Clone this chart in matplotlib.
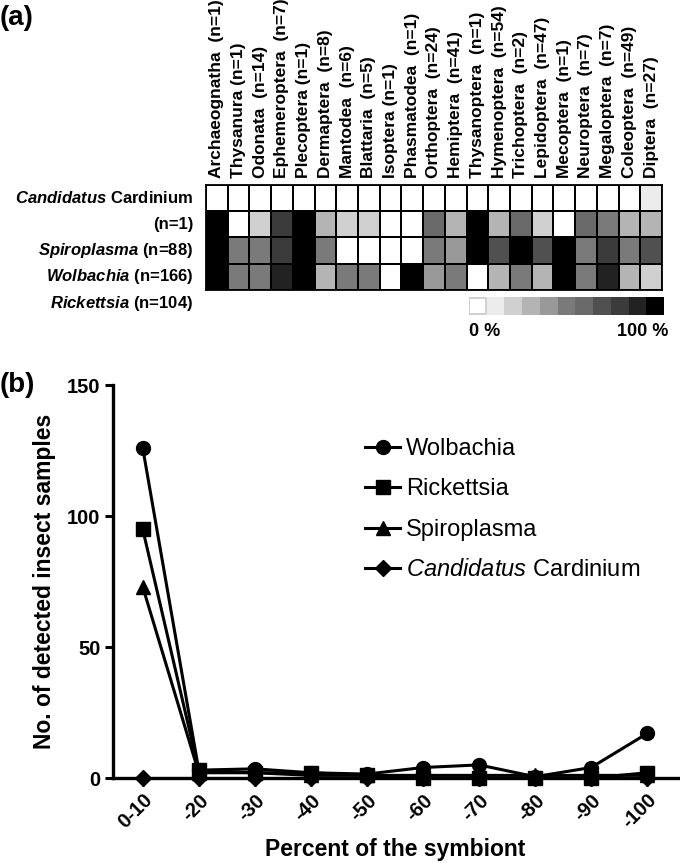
import matplotlib

matplotlib.use("Agg")

import matplotlib.pyplot as plt
import numpy as np
from matplotlib.colors import BoundaryNorm, ListedColormap
from matplotlib.patches import Rectangle
from matplotlib.transforms import blended_transform_factory

plt.rcParams["font.family"] = ["Liberation Sans", "DejaVu Sans"]
plt.rcParams["mathtext.fontset"] = "custom"
plt.rcParams["mathtext.rm"] = "Liberation Sans:bold"
plt.rcParams["mathtext.it"] = "Liberation Sans:italic:bold"
plt.rcParams["mathtext.sf"] = "Liberation Sans:italic"

# --- panel (a): infection rate (%) per insect order ------------------------
orders = ["Archaeognatha  (n=1)", "Thysanura (n=1)", "Odonata  (n=14)",
          "Ephemeroptera  (n=7)", "Plecoptera (n=1)", "Dermaptera  (n=8)",
          "Mantodea  (n=6)", "Blattaria  (n=5)", "Isoptera (n=1)",
          "Phasmatodea  (n=1)", "Orthoptera  (n=24)", "Hemiptera  (n=41)",
          "Thysanoptera  (n=1)", "Hymenoptera  (n=54)", "Trichoptera  (n=2)",
          "Lepidoptera  (n=47)", "Mecoptera  (n=1)", "Neuroptera  (n=7)",
          "Megaloptera  (n=7)", "Coleoptera  (n=49)", "Diptera  (n=27)"]
row_labels = [r"$\it{Candidatus}$ Cardinium", "(n=1)",
              r"$\it{Spiroplasma}$ (n=88)", r"$\it{Wolbachia}$ (n=166)",
              r"$\it{Rickettsia}$ (n=104)"]
cardinium_pct = [0, 0, 0, 0, 0, 0, 0, 0, 0, 0, 0, 0, 0, 0, 0, 0, 0, 0, 0, 0, 10]
spiroplasma_pct = [100, 0, 20, 80, 100, 30, 20, 20, 0, 0, 60, 30, 100, 30, 60,
                   20, 0, 60, 50, 30, 30]
wolbachia_pct = [100, 50, 50, 80, 100, 50, 0, 0, 0, 0, 50, 40, 100, 70, 100,
                 70, 100, 50, 80, 50, 70]
rickettsia_pct = [100, 50, 50, 90, 100, 30, 50, 50, 0, 100, 40, 50, 0, 30, 50,
                  30, 100, 50, 90, 30, 20]
scale_pct = [0, 10, 20, 30, 40, 50, 60, 70, 80, 90, 100]

grays = ["#ffffff", "#ececec", "#d0d0d0", "#b4b4b4", "#999999", "#7a7a7a",
         "#6a6a6a", "#505050", "#3b3b3b", "#222222", "#000000"]
cmap = ListedColormap(grays)
norm = BoundaryNorm(np.arange(-5, 110, 10), cmap.N)

# --- panel (b): number of samples per symbiont-percentage class ------------
bins = ["0-10", "-20", "-30", "-40", "-50", "-60", "-70", "-80", "-90", "-100"]
wolbachia_n = [126, 3, 3.5, 2, 1.5, 4, 5, 0.5, 4, 17]
rickettsia_n = [95, 3, 2, 2, 1, 0, 0, 0, 0, 2]
spiroplasma_n = [73, 2, 2, 1, 1, 1, 1, 1, 1, 1]
cardinium_n = [0, 0, 0, 0, 0, 0, 0, 0, 0, 0]

W, H = 680, 863
fig = plt.figure(figsize=(W / 100, H / 100), dpi=100)


def box(x0, y0, x1, y1):
    """Pixel box (top-left origin) -> figure fraction rect."""
    return [x0 / W, 1 - y1 / H, (x1 - x0) / W, (y1 - y0) / H]


# heatmap
ax_h = fig.add_axes(box(206, 185, 662, 290))
data = np.array([cardinium_pct, spiroplasma_pct, wolbachia_pct, rickettsia_pct])
ax_h.pcolormesh(data, cmap=cmap, norm=norm, edgecolors="black", linewidth=1.3)
ax_h.set_xlim(0, len(orders))
ax_h.set_ylim(data.shape[0], 0)
ax_h.xaxis.tick_top()
ax_h.set_xticks(np.arange(len(orders)) + 0.5)
ax_h.set_xticklabels(orders, rotation=90, fontweight="bold", fontsize=12.5)
ax_h.set_yticks([])
ax_h.tick_params(axis="x", length=0, pad=5)
for s in ax_h.spines.values():
    s.set_linewidth(1.3)
trans = blended_transform_factory(ax_h.transAxes, ax_h.transData)
for i, lab in enumerate(row_labels):
    ax_h.text(-0.028, i + 0.5, lab, transform=trans, ha="right", va="center",
              fontweight="bold", fontsize=12)

# grey scale key
ax_c = fig.add_axes(box(469, 297, 664, 315))
ax_c.pcolormesh(np.array([scale_pct]), cmap=cmap, norm=norm)
ax_c.add_patch(Rectangle((0.02, 0.03), 0.96, 0.94, fill=False, edgecolor="#c8c8c8",
                         linewidth=1.2))
ax_c.set_axis_off()
fig.text(469 / W, 1 - 331 / H, "0 %", ha="left", va="center", fontweight="bold",
         fontsize=13)
fig.text(668 / W, 1 - 331 / H, "100 %", ha="right", va="center", fontweight="bold",
         fontsize=13)

# line chart
ax_b = fig.add_axes(box(113, 385, 678, 778))
x = np.arange(len(bins))
series = [(wolbachia_n, "o", "Wolbachia"), (rickettsia_n, "s", "Rickettsia"),
          (spiroplasma_n, "^", "Spiroplasma"),
          (cardinium_n, "D", r"$\mathsf{Candidatus}$ Cardinium")]
for vals, mk, lab in series:
    ax_b.plot(x, vals, color="black", linewidth=2.2, marker=mk,
              markersize=10 if mk != "D" else 8, label=lab, clip_on=False, zorder=3)
ax_b.set_xlim(-0.53, 9.55)
ax_b.set_ylim(0, 150)
ax_b.set_yticks([0, 50, 100, 150])
ax_b.set_xticks(x)
ax_b.set_xticklabels(bins, rotation=45, ha="right", rotation_mode="anchor")
for s in ["top", "right"]:
    ax_b.spines[s].set_visible(False)
for s in ["left", "bottom"]:
    ax_b.spines[s].set_linewidth(2.4)
ax_b.tick_params(width=2.2, length=6, labelsize=14.5, pad=3)
for t in ax_b.get_xticklabels() + ax_b.get_yticklabels():
    t.set_fontweight("bold")
ax_b.set_ylabel("No. of detected insect samples", fontsize=16.5, fontweight="bold",
                labelpad=8)
ax_b.set_xlabel("Percent of the symbiont", fontsize=16.5, fontweight="bold",
                labelpad=4)
ax_b.legend(loc="upper left", bbox_to_anchor=(365 / W, 1 - 438 / H),
            bbox_transform=fig.transFigure, frameon=False, borderpad=0,
            borderaxespad=0, fontsize=17, handlelength=1.5, labelspacing=0.78,
            handletextpad=0.25)

fig.text(0, 1 - 18 / H, "(a)", ha="left", va="center", fontweight="bold",
         fontsize=20)
fig.text(0, 1 - 385 / H, "(b)", ha="left", va="center", fontweight="bold",
         fontsize=20)

fig.savefig("out.png", dpi=100)
